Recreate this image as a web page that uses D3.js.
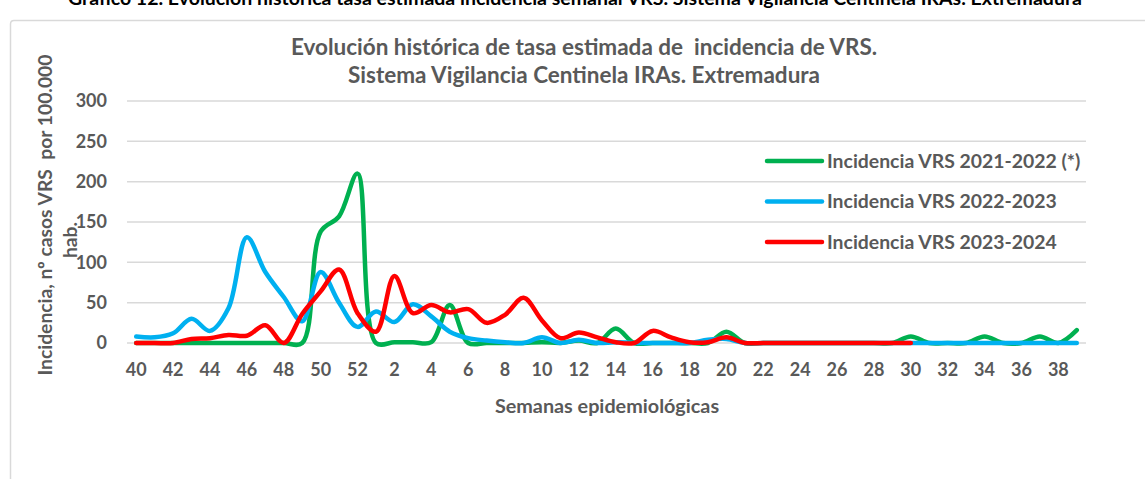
<!DOCTYPE html>
<html lang="es">
<head>
  <meta charset="UTF-8" />
  <title>Incidencia VRS Extremadura</title>
  <style>
    html, body { margin: 0; padding: 0; background: #fff; overflow: hidden; }
    svg { font-family: Lato, "Open Sans", sans-serif; font-weight: bold; }
    .grid line { stroke: #d9d9d9; stroke-width: 1.5px; }
    .tick-label { fill: #595959; font-size: 18px; }
    .legend-label { fill: #595959; font-size: 19.4px; }
    .series { fill: none; stroke-width: 4.5px; stroke-linejoin: round; stroke-linecap: round; }
  </style>
</head>
<body>
  <svg width="1145" height="479"></svg>

  <script src="https://d3js.org/d3.v7.min.js"></script>
  <script>
    // weeks 40..52 then 1..39
    const weeks = [40,41,42,43,44,45,46,47,48,49,50,51,52,
      1,2,3,4,5,6,7,8,9,10,11,12,13,14,15,16,17,18,19,20,21,22,23,24,25,26,27,28,29,30,31,32,33,34,35,36,37,38,39];

    const vrs2122 = [0,0,0,0,0,0,0,0,0,0,138,157,210,
      0,1,1,1,47,0,0,0,0,1,0,3,0,18,0,0,0,0,0,14,0,0,0,0,0,0,0,0,0,8,0,0,0,8,0,0,8,0,16];
    const vrs2223 = [8,7,12,30,15,43,131,88,57,27,88,50,20,
      39,26,48,33,14,6,3,1,0,7,0,4,0,1,0,0,0,0,4,5,0,0,0,0,0,0,0,0,0,0,0,0,0,0,0,0,0,0,0];
    const vrs2324 = [0,0,0,5,6,10,9,22,0,36,64,91,37,
      14,83,37,47,38,42,25,35,56,28,6,13,7,1,0,15,7,1,1,7,0,0,0,0,0,0,0,0,0,0];

    const seriesNames = ["Incidencia VRS 2021-2022 (*)", "Incidencia VRS 2022-2023", "Incidencia VRS 2023-2024"];
    const seriesColors = ["#00b050", "#00b0f0", "#ff0000"];
    const yTicks = [0, 50, 100, 150, 200, 250, 300];

    const svg = d3.select("svg");

    // chart frame
    svg.append("path")
      .attr("d", "M10.5,479 L10.5,24 Q10.5,20.5 14,20.5 L1145,20.5")
      .attr("fill", "none")
      .attr("stroke", "#d9d9d9")
      .attr("stroke-width", 1.5);

    // figure caption, cut by the top edge as in the source
    svg.append("text")
      .attr("x", 575).attr("y", 5)
      .attr("text-anchor", "middle")
      .attr("fill", "#000")
      .style("font-size", "19.5px")
      .text("Gráfico 12. Evolución histórica tasa estimada incidencia semanal VRS. Sistema Vigilancia Centinela IRAs. Extremadura");

    const x = d3.scaleBand().domain(d3.range(weeks.length)).range([127, 1086]);
    const cx = i => x(i) + x.bandwidth() / 2;
    const y = d3.scaleLinear().domain([0, 300]).range([343, 101]);

    // gridlines
    svg.append("g").attr("class", "grid")
      .selectAll("line")
      .data(yTicks)
      .join("line")
      .attr("x1", 127).attr("x2", 1086)
      .attr("y1", d => y(d)).attr("y2", d => y(d));

    // y tick labels
    svg.append("g")
      .selectAll("text")
      .data(yTicks)
      .join("text")
      .attr("class", "tick-label")
      .attr("x", 107)
      .attr("y", d => y(d))
      .attr("dy", "0.36em")
      .attr("text-anchor", "end")
      .text(d => d);

    // x tick labels (every other week)
    svg.append("g")
      .selectAll("text")
      .data(d3.range(0, weeks.length, 2))
      .join("text")
      .attr("class", "tick-label")
      .attr("x", i => cx(i))
      .attr("y", 370)
      .attr("dy", "0.36em")
      .attr("text-anchor", "middle")
      .text(i => weeks[i]);

    // series
    const line = d3.line()
      .defined(d => d != null)
      .x((d, i) => cx(i))
      .y(d => y(d))
      .curve(d3.curveCatmullRom.alpha(0.5));

    [vrs2122, vrs2223, vrs2324].forEach((vals, k) => {
      svg.append("path")
        .attr("class", "series")
        .attr("stroke", seriesColors[k])
        .attr("d", line(vals));
    });

    // legend
    const legend = svg.append("g")
      .selectAll("g")
      .data(seriesNames)
      .join("g")
      .attr("transform", (d, i) => `translate(767,${161 + i * 40.5})`);
    legend.append("line")
      .attr("x1", 0).attr("x2", 55)
      .attr("stroke", (d, i) => seriesColors[i])
      .attr("stroke-width", 4.5)
      .attr("stroke-linecap", "round");
    legend.append("text")
      .attr("class", "legend-label")
      .attr("x", 60)
      .attr("dy", "0.36em")
      .text(d => d);

    // chart title
    svg.append("text")
      .attr("x", 584).attr("y", 47)
      .attr("dy", "0.36em")
      .attr("text-anchor", "middle")
      .attr("fill", "#595959")
      .attr("xml:space", "preserve")
      .style("font-size", "22.5px")
      .text("Evolución histórica de tasa estimada de  incidencia de VRS.");
    svg.append("text")
      .attr("x", 584).attr("y", 75)
      .attr("dy", "0.36em")
      .attr("text-anchor", "middle")
      .attr("fill", "#595959")
      .style("font-size", "22.5px")
      .text("Sistema Vigilancia Centinela IRAs. Extremadura");

    // axis titles
    svg.append("text")
      .attr("transform", "translate(45,215) rotate(-90)")
      .attr("dy", "0.36em")
      .attr("text-anchor", "middle")
      .attr("fill", "#595959")
      .attr("xml:space", "preserve")
      .style("font-size", "19.3px")
      .text("Incidencia, nº casos VRS  por 100.000");
    svg.append("text")
      .attr("transform", "translate(70,240) rotate(-90)")
      .attr("dy", "0.36em")
      .attr("text-anchor", "middle")
      .attr("fill", "#595959")
      .style("font-size", "19.3px")
      .text("hab.");

    svg.append("text")
      .attr("x", 607).attr("y", 406)
      .attr("dy", "0.36em")
      .attr("text-anchor", "middle")
      .attr("fill", "#595959")
      .style("font-size", "19.8px")
      .text("Semanas epidemiológicas");
  </script>
</body>
</html>
